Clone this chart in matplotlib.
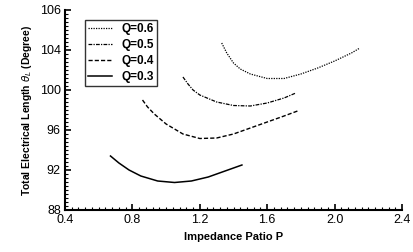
import matplotlib
matplotlib.use("Agg")
import matplotlib.pyplot as plt
from matplotlib.ticker import MultipleLocator, FixedLocator

plt.rcParams['font.family'] = ['Liberation Sans', 'DejaVu Sans']

p_q6 = [1.33, 1.36, 1.40, 1.44, 1.50, 1.60, 1.70, 1.80, 1.90, 2.00, 2.10, 2.15]
t_q6 = [104.7, 103.7, 102.7, 102.1, 101.6, 101.15, 101.15, 101.6, 102.2, 102.9, 103.7, 104.2]
p_q5 = [1.10, 1.13, 1.16, 1.20, 1.30, 1.40, 1.50, 1.60, 1.70, 1.77]
t_q5 = [101.3, 100.6, 100.0, 99.5, 98.8, 98.45, 98.4, 98.7, 99.2, 99.7]
p_q4 = [0.86, 0.89, 0.93, 1.00, 1.10, 1.20, 1.30, 1.40, 1.50, 1.60, 1.70, 1.78]
t_q4 = [99.0, 98.3, 97.6, 96.6, 95.6, 95.15, 95.2, 95.6, 96.2, 96.8, 97.4, 97.9]
p_q3 = [0.67, 0.72, 0.78, 0.85, 0.95, 1.05, 1.15, 1.25, 1.35, 1.45]
t_q3 = [93.4, 92.7, 92.0, 91.4, 90.9, 90.75, 90.9, 91.3, 91.9, 92.5]

y_ticks = [88, 92, 96, 100, 104, 108]
y_tick_labels = ['88', '92', '96', '100', '104', '106']
x_ticks = [0.4, 0.8, 1.2, 1.6, 2.0, 2.4]
x_tick_labels = ['0.4', '0.8', '1.2', '1.6', '2.0', '2.4']

fig = plt.figure(figsize=(4.13, 2.52), dpi=100)
ax = fig.add_axes([65/413, 42/252, 337/413, 200/252])

ax.plot(p_q6, t_q6, color='black', lw=0.9, linestyle=(0, (1, 1)), label='Q=0.6')
ax.plot(p_q5, t_q5, color='black', lw=0.9, linestyle=(0, (3, 1, 1, 1)), label='Q=0.5')
ax.plot(p_q4, t_q4, color='black', lw=1.0, linestyle=(0, (3, 1.5)), label='Q=0.4')
ax.plot(p_q3, t_q3, color='black', lw=1.1, linestyle='-', label='Q=0.3')

ax.set_xlim(0.4, 2.4)
ax.set_ylim(88, 108)
ax.xaxis.set_major_locator(FixedLocator(x_ticks))
ax.set_xticklabels(x_tick_labels)
ax.yaxis.set_major_locator(FixedLocator(y_ticks))
ax.set_yticklabels(y_tick_labels)
ax.xaxis.set_minor_locator(MultipleLocator(0.04))
ax.yaxis.set_minor_locator(MultipleLocator(0.4))
ax.tick_params(which='major', direction='in', length=4, width=1.2, labelsize=9, pad=3)
ax.tick_params(which='minor', direction='in', length=2, width=0.8)
for s in ['top', 'right']:
    ax.spines[s].set_visible(False)
for s in ['left', 'bottom']:
    ax.spines[s].set_linewidth(1.5)

ax.set_xlabel('Impedance Patio P', fontsize=8, fontweight='bold', labelpad=4)
ax.set_ylabel(r'Total Electrical Length $\theta_L$ (Degree)', fontsize=7.5, fontweight='bold', labelpad=4)

leg = ax.legend(loc='upper left', bbox_to_anchor=(0.06, 0.95),
                prop={'weight': 'bold', 'size': 8.5}, frameon=True, fancybox=False,
                edgecolor='black', handlelength=2.0, handletextpad=0.8,
                borderpad=0.25, labelspacing=0.35, borderaxespad=0)
leg.get_frame().set_linewidth(1.0)

fig.savefig('out.png', dpi=100)
